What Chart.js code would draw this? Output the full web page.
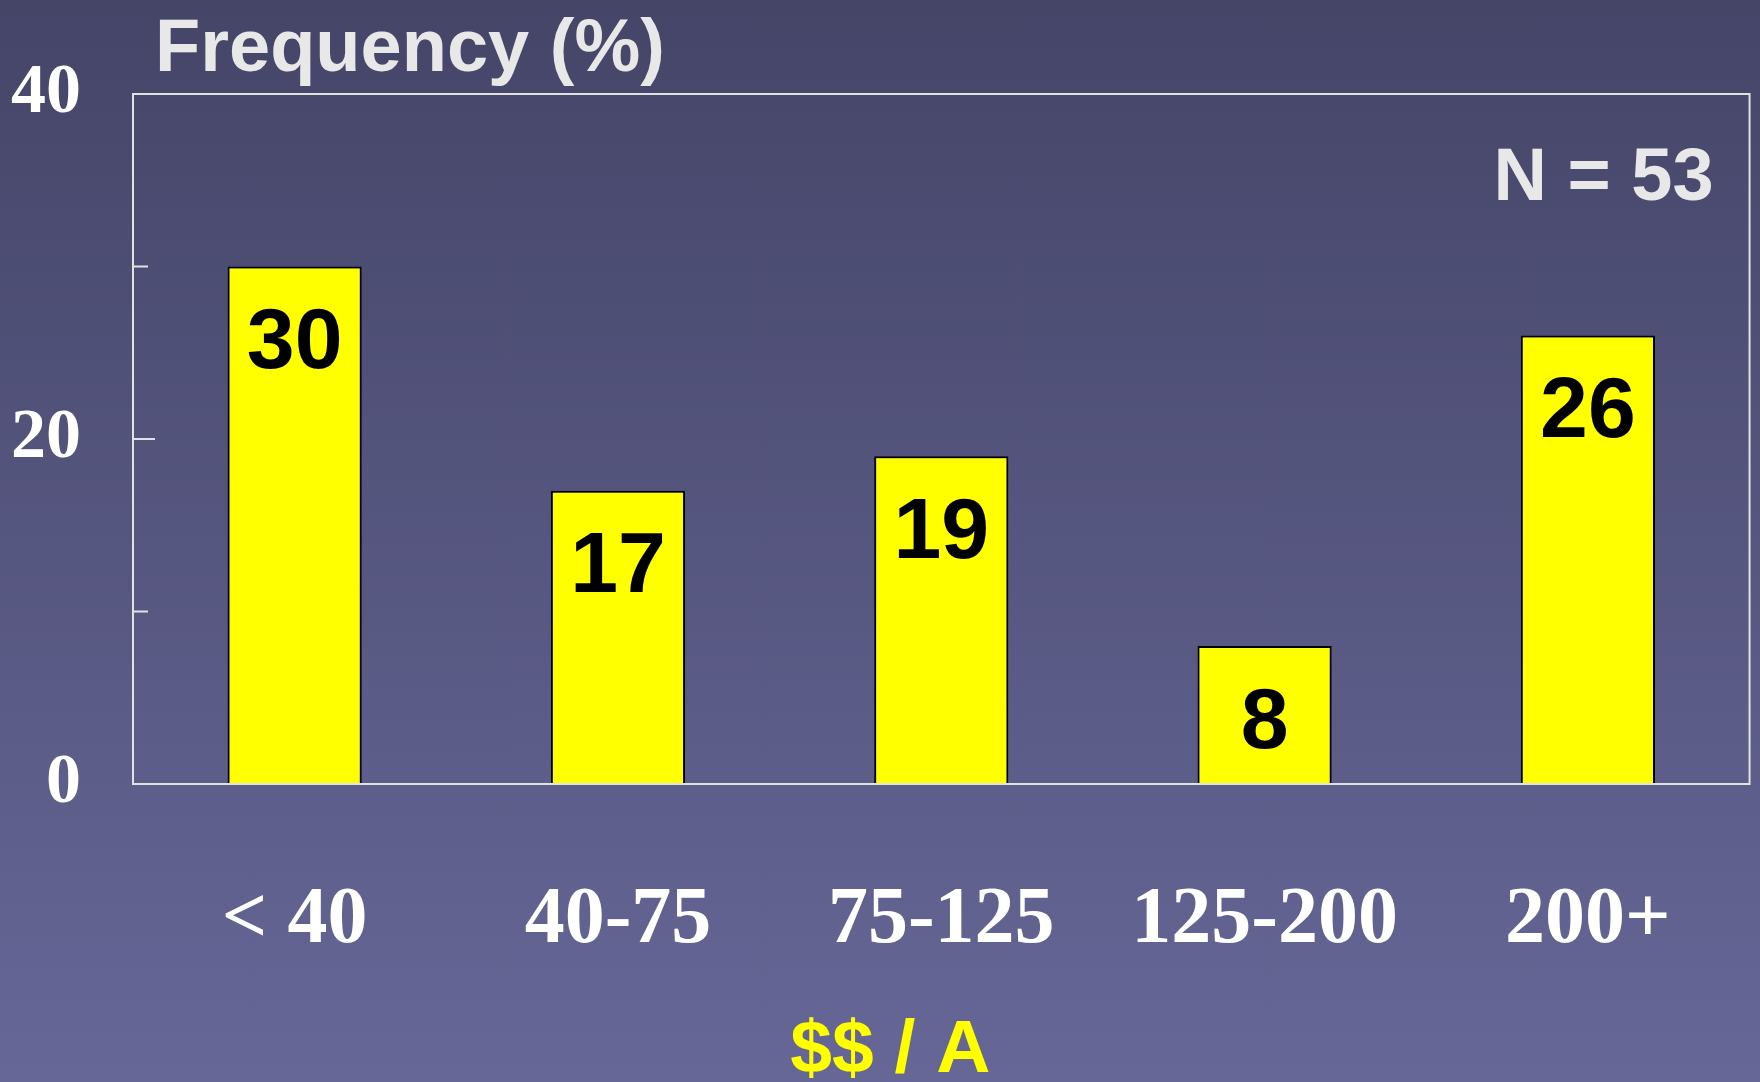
<!DOCTYPE html>
<html>
<head>
<meta charset="utf-8">
<script src="https://cdn.jsdelivr.net/npm/chart.js@4"></script>
<style>
    html, body { margin: 0; padding: 0; }
    body {
        width: 1760px;
        height: 1082px;
        overflow: hidden;
        background: linear-gradient(to bottom, #454568 0%, #666797 100%);
    }
    #wrap { position: relative; width: 1760px; height: 1082px; }
</style>
</head>
<body>
<div id="wrap"><canvas id="bar-chart"></canvas></div>
<script>
var categories = ["< 40", "40-75", "75-125", "125-200", "200+"];
var frequency = [30, 17, 19, 8, 26];
var yTickLabels = [0, 20, 40];
var yTitle = "Frequency (%)";
var xTitle = "$$ / A";
var sampleNote = "N = 53";

var sansBold = '"Liberation Sans", Arial, sans-serif';
var serifBold = '"Liberation Serif", "Times New Roman", serif';

// frame, inward ticks, value labels and titles
var slidePlugin = {
    id: "slideText",
    afterDraw: function (chart) {
        var ctx = chart.ctx;
        var area = chart.chartArea;
        var yScale = chart.scales.y;

        ctx.save();
        ctx.strokeStyle = "#e2e2e2";
        ctx.lineWidth = 2;
        ctx.strokeRect(area.left, area.top, area.right - area.left, area.bottom - area.top);

        yScale.ticks.forEach(function (t) {
            if (t.value === yScale.min || t.value === yScale.max) return;
            var py = yScale.getPixelForValue(t.value);
            var len = yTickLabels.indexOf(t.value) >= 0 ? 22 : 15;
            ctx.beginPath();
            ctx.moveTo(area.left, py);
            ctx.lineTo(area.left + len, py);
            ctx.stroke();
        });

        var meta = chart.getDatasetMeta(0);
        ctx.fillStyle = "#000000";
        ctx.font = "bold 86px " + sansBold;
        ctx.textAlign = "center";
        ctx.textBaseline = "middle";
        meta.data.forEach(function (bar, i) {
            ctx.fillText(String(frequency[i]), bar.x, bar.y + 78);
        });

        ctx.textBaseline = "alphabetic";
        ctx.fillStyle = "#e8e8e8";
        ctx.font = "bold 74px " + sansBold;
        ctx.textAlign = "left";
        ctx.fillText(yTitle, area.left + 22, area.top - 23);

        ctx.textAlign = "right";
        ctx.fillText(sampleNote, area.right - 36, area.top + 106);

        ctx.fillStyle = "#ffff00";
        ctx.font = "bold 75px " + sansBold;
        ctx.textAlign = "center";
        ctx.fillText(xTitle, (area.left + area.right) / 2 - 51, area.bottom + 288);
        ctx.restore();
    }
};

var ctx = document.getElementById("bar-chart").getContext("2d");

var chart = new Chart(ctx, {
    type: "bar",
    data: {
        labels: categories,
        datasets: [
            {
                label: "Frequency",
                data: frequency,
                backgroundColor: "#ffff00",
                borderColor: "#000000",
                borderWidth: 2,
                barPercentage: 0.415,
                categoryPercentage: 1.0,
            },
        ],
    },
    options: {
        responsive: true,
        maintainAspectRatio: false,
        animation: false,
        devicePixelRatio: 1,
        layout: {
            padding: { top: 93, right: 3, left: 0, bottom: 0 },
        },
        plugins: {
            legend: { display: false },
            tooltip: { enabled: false },
        },
        scales: {
            x: {
                grid: { display: false, drawTicks: false },
                border: { display: false },
                ticks: {
                    color: "#ffffff",
                    padding: 89,
                    maxRotation: 0,
                    font: { family: serifBold, size: 80, weight: "bold" },
                },
                afterFit: function (scale) {
                    scale.height = 298;
                },
            },
            y: {
                min: 0,
                max: 40,
                grid: { display: false, drawTicks: false },
                border: { display: false },
                ticks: {
                    stepSize: 10,
                    color: "#ffffff",
                    padding: 52,
                    font: { family: serifBold, size: 70, weight: "bold" },
                    callback: function (v) {
                        return yTickLabels.indexOf(v) >= 0 ? String(v) : "";
                    },
                },
                afterFit: function (scale) {
                    scale.width = 133;
                },
            },
        },
    },
    plugins: [slidePlugin],
});
</script>
</body>
</html>
